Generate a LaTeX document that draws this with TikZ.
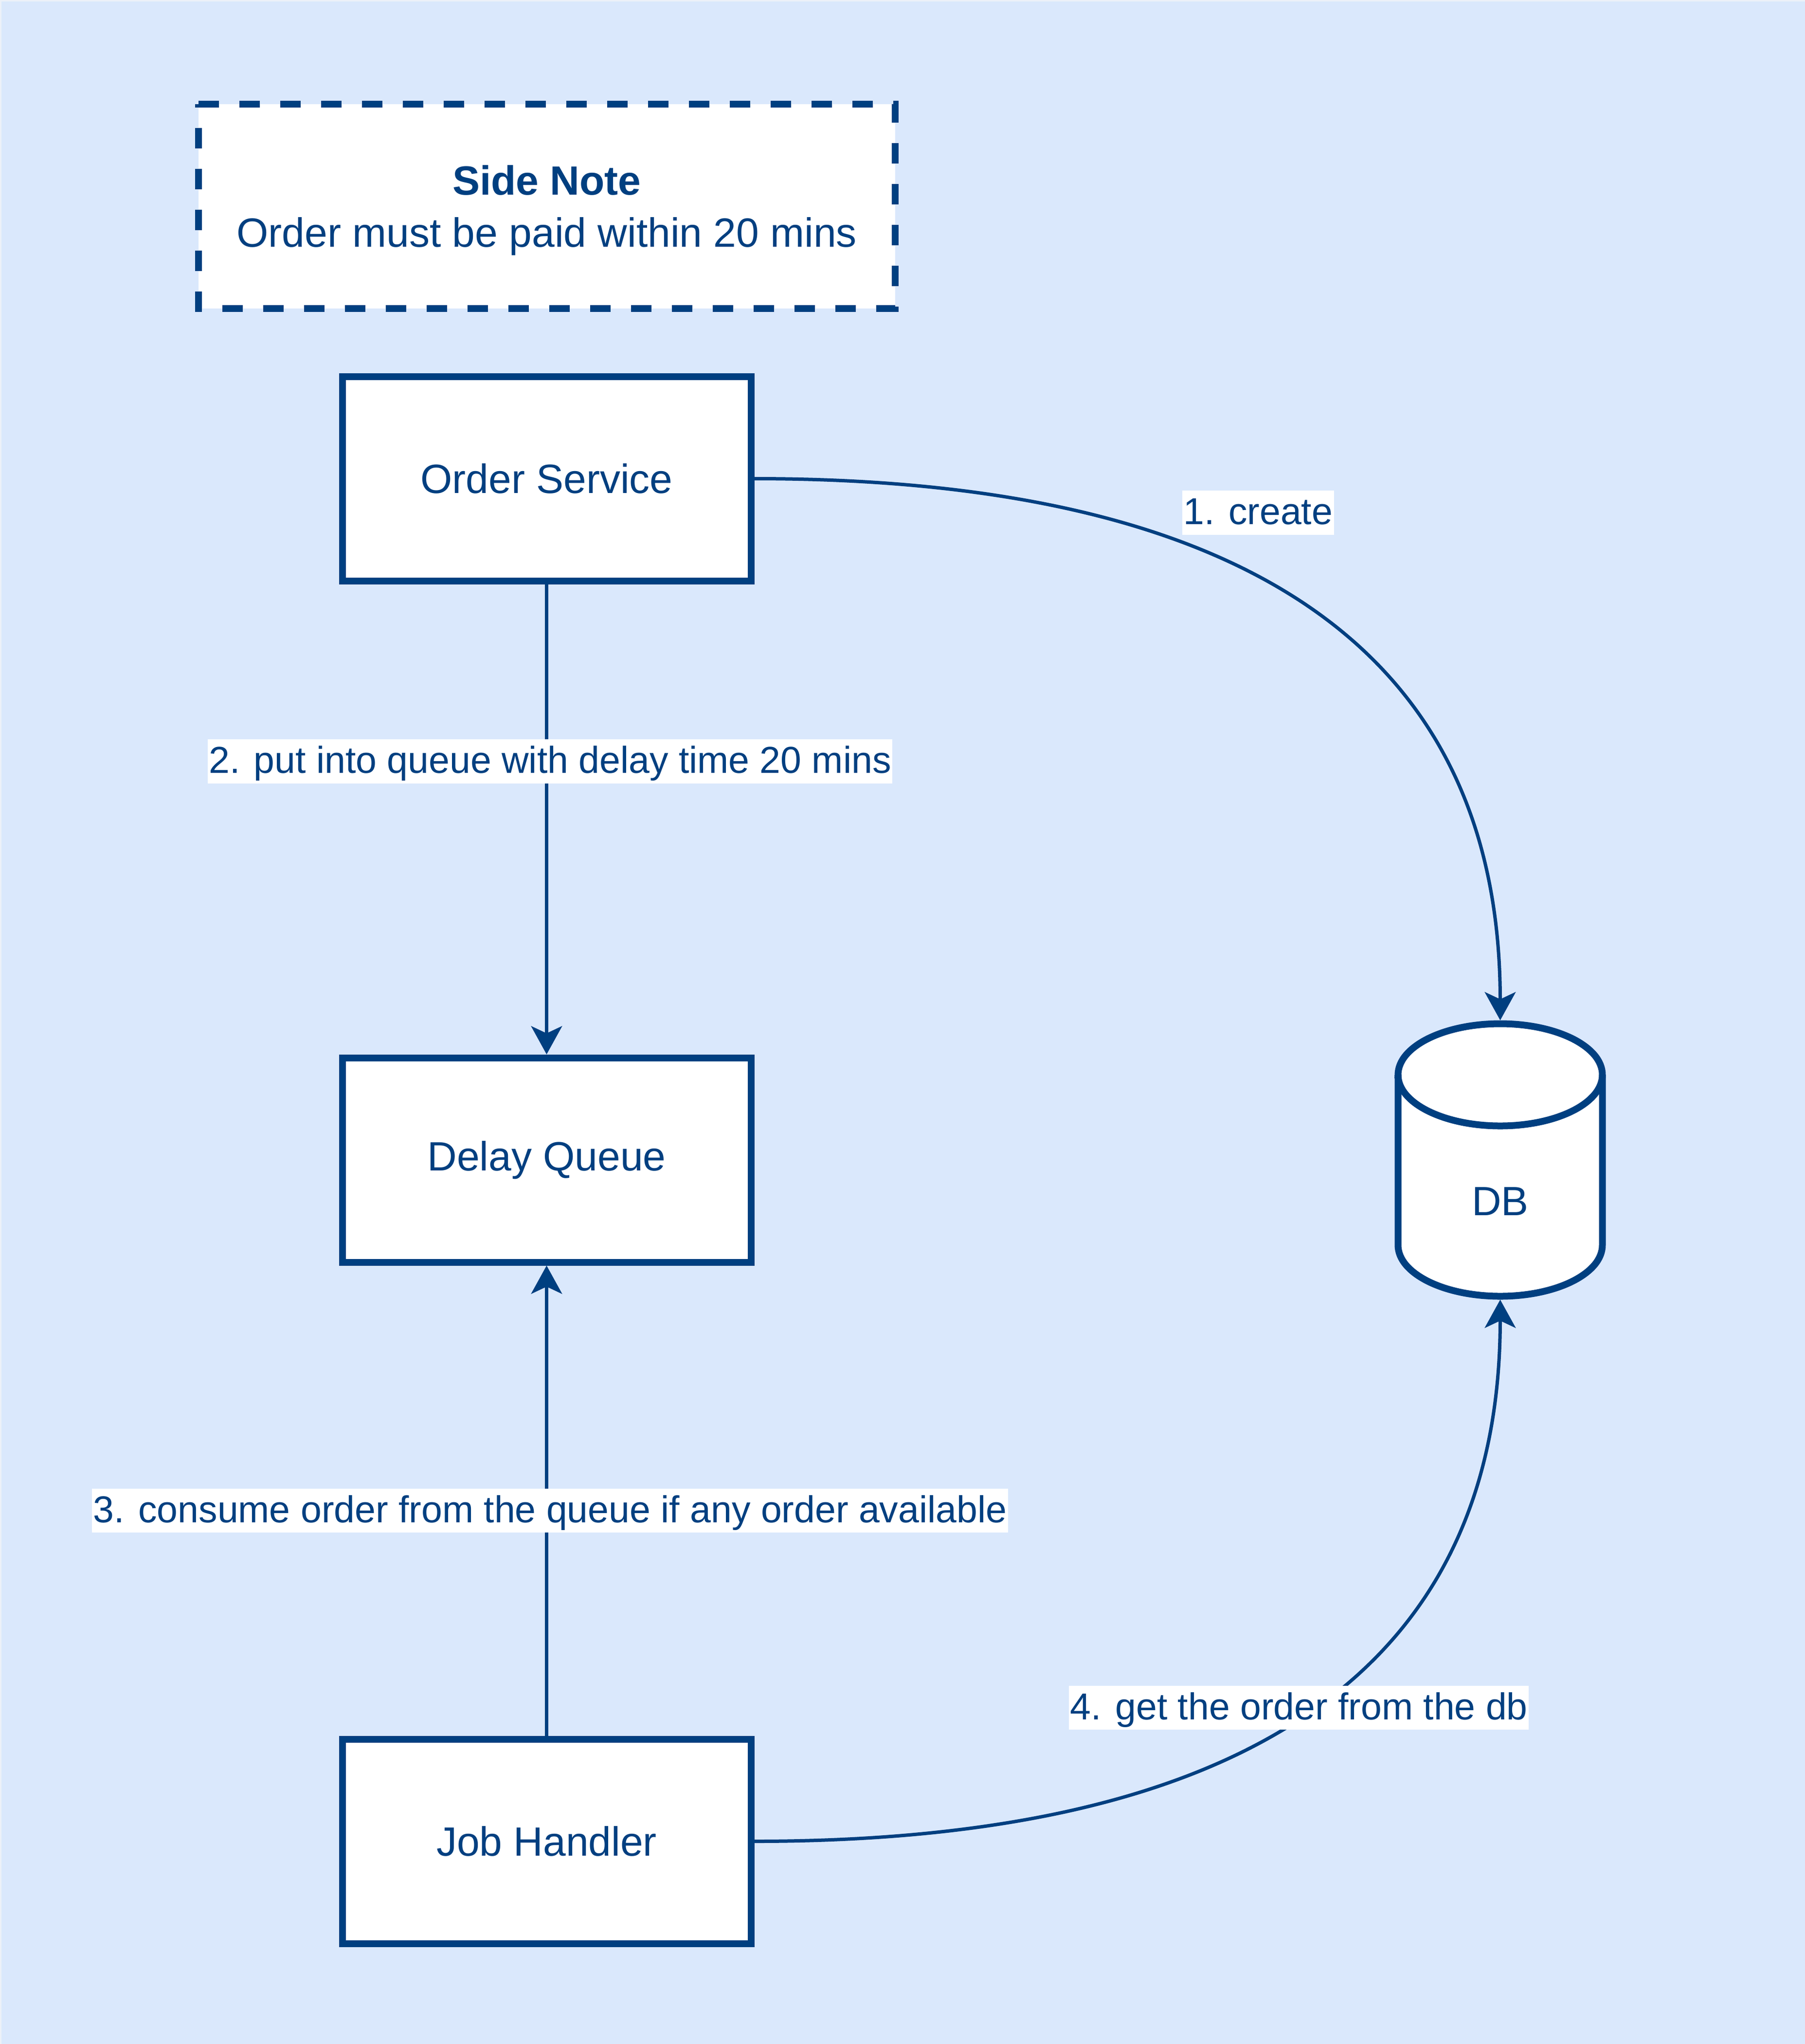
\documentclass[tikz,border=0pt]{standalone}
\usepackage{fontspec}
\setmainfont{Liberation Sans}
\usetikzlibrary{arrows.meta}
\definecolor{dblue}{HTML}{003F80}
\definecolor{bgblue}{HTML}{DAE8FC}
\definecolor{bgedge}{HTML}{ECF1F8}
\begin{document}
\begin{tikzpicture}[x=1.4pt,y=1.4pt,
  box/.style={draw=dblue, line width=2.8pt, fill=white, minimum width=168pt, minimum height=84pt, inner sep=0pt, text=dblue, font=\fontsize{16.8}{20.16}\selectfont},
  edge/.style={draw=dblue, line width=1.4pt, -{Stealth[length=11.6pt,width=12.7pt,inset=2.95pt]}},
  elabel/.style={fill=white, text=dblue, inner xsep=0.5pt, inner ysep=0pt, text height=13.9pt, text depth=4.2pt, font=\fontsize{15.4}{18.5}\selectfont},
  notefr/.style={draw=dblue, line width=2.8pt, dash pattern=on 8.4pt off 8.4pt},
  cyl/.style={draw=dblue, line width=2.8pt, fill=white},
]
% background
\fill[bgblue] (0,0) rectangle (530,-600);
\useasboundingbox (0,0) rectangle (530,-600);
\draw[bgedge, line width=0.6pt] (0.21,-600) -- (0.21,-0.21) -- (530,-0.21);

% side note
\node[minimum width=286.3pt, minimum height=84pt, inner sep=0pt, outer sep=0pt, fill=white] (note) at (160.55,-60.5) {};
\draw[notefr] (note.north west) -- (note.north east) -- (note.south east) -- (note.south west) -- cycle;
\node[text=dblue, align=center, font=\fontsize{16.8}{21.4}\selectfont] (notetext) at (160.55,-61.7) {\textbf{Side Note}\\Order must be paid within 20 mins};

% boxes
\node[box] (os) at (160.5,-140.5) {Order Service};
\node[box] (dq) at (160.5,-340.5) {Delay Queue};
\node[box] (jh) at (160.5,-540.5) {Job Handler};

% database cylinder
\node[minimum width=84pt, minimum height=112pt, inner sep=0pt, outer sep=1.4pt] (db) at (440.5,-340.5) {};
\draw[cyl] (410.5,-315.5) -- (410.5,-365.5)
  arc[start angle=180, end angle=360, x radius=42pt, y radius=21pt]
  -- (470.5,-315.5)
  arc[start angle=0, end angle=180, x radius=42pt, y radius=21pt] -- cycle;
\draw[draw=dblue, line width=2.8pt] (410.5,-315.5)
  arc[start angle=180, end angle=360, x radius=42pt, y radius=21pt];
\node[text=dblue, font=\fontsize{16.8}{20.16}\selectfont] (dbtext) at (440.5,-352.6) {DB};

% connectors
\draw[edge] (os.east) .. controls +(146.67,0) and +(0,106.67) .. (db.north);
\draw[edge] (os.south) -- (dq.north);
\draw[edge] (jh.north) -- (dq.south);
\draw[edge] (jh.east) .. controls +(146.67,0) and +(0,-106.67) .. (db.south);

% connector labels
\node[elabel] (l1) at (369.4,-150.5) {1. create};
\node[elabel] (l2) at (161.5,-223.5) {2. put into queue with delay time 20 mins};
\node[elabel] (l3) at (161.5,-443.4) {3. consume order from the queue if any order available};
\node[elabel] (l4) at (381.4,-501.3) {4. get the order from the db};
\end{tikzpicture}
\end{document}
